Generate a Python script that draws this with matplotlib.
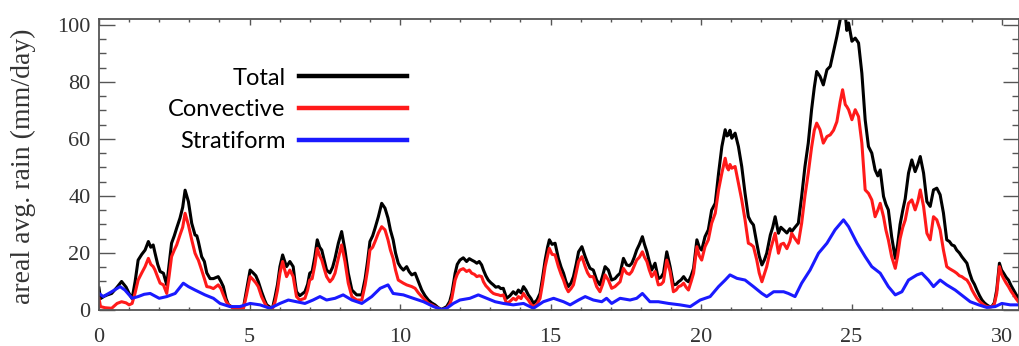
import matplotlib.pyplot as plt

# Daily-ish samples (day of month, mm/day)
day_total = [
    0.00, 0.05, 0.20, 0.42, 0.60, 0.75, 0.90, 1.00, 1.10, 1.20, 1.30, 1.42, 1.53, 1.64, 1.72, 1.80, 1.86, 1.95,
    2.03, 2.14, 2.25, 2.33, 2.41, 2.50, 2.58, 2.69, 2.78, 2.86, 2.97, 3.08, 3.19, 3.25, 3.30, 3.41, 3.50, 3.58,
    3.69, 3.80, 3.96, 4.05, 4.13, 4.22, 4.30, 4.46, 4.65, 4.80, 4.90, 5.02, 5.13, 5.21, 5.29, 5.40, 5.50, 5.57,
    5.68, 5.76, 5.85, 5.93, 6.01, 6.10, 6.17, 6.23, 6.34, 6.45, 6.51, 6.56, 6.67, 6.84, 6.93, 7.00, 7.08, 7.17,
    7.25, 7.33, 7.40, 7.48, 7.56, 7.67, 7.76, 7.84, 7.95, 8.06, 8.17, 8.28, 8.40, 8.56, 8.73, 8.84, 8.92, 9.00,
    9.09, 9.17, 9.28, 9.39, 9.50, 9.60, 9.68, 9.77, 9.85, 9.94, 10.02, 10.11, 10.22, 10.30, 10.39, 10.50, 10.61,
    10.72, 10.83, 10.94, 11.05, 11.16, 11.27, 11.38, 11.55, 11.65, 11.72, 11.83, 11.90, 11.99, 12.10, 12.21,
    12.30, 12.38, 12.47, 12.55, 12.63, 12.71, 12.77, 12.85, 12.93, 13.02, 13.10, 13.18, 13.27, 13.35, 13.43,
    13.54, 13.65, 13.76, 13.85, 13.93, 14.02, 14.10, 14.18, 14.26, 14.35, 14.43, 14.55, 14.65, 14.73, 14.82,
    14.90, 14.96, 15.05, 15.15, 15.26, 15.35, 15.43, 15.51, 15.59, 15.68, 15.76, 15.85, 15.93, 16.04, 16.15,
    16.23, 16.31, 16.42, 16.53, 16.64, 16.73, 16.81, 16.92, 17.03, 17.14, 17.22, 17.31, 17.42, 17.53, 17.62,
    17.70, 17.78, 17.86, 17.95, 18.05, 18.12, 18.20, 18.28, 18.36, 18.47, 18.58, 18.67, 18.75, 18.86, 18.97,
    19.08, 19.17, 19.25, 19.33, 19.42, 19.50, 19.58, 19.67, 19.75, 19.86, 19.94, 20.02, 20.13, 20.24, 20.35,
    20.47, 20.58, 20.69, 20.80, 20.86, 20.91, 20.96, 21.02, 21.13, 21.24, 21.35, 21.46, 21.57, 21.65, 21.74,
    21.85, 21.93, 22.02, 22.10, 22.18, 22.30, 22.38, 22.46, 22.57, 22.65, 22.74, 22.85, 22.95, 23.01, 23.12,
    23.23, 23.34, 23.45, 23.56, 23.67, 23.76, 23.84, 23.95, 24.06, 24.18, 24.29, 24.40, 24.51, 24.62, 24.70,
    24.79, 24.84, 24.90, 25.01, 25.12, 25.23, 25.34, 25.45, 25.56, 25.67, 25.78, 25.87, 25.95, 26.06, 26.14,
    26.22, 26.33, 26.45, 26.53, 26.61, 26.70, 26.78, 26.89, 27.00, 27.11, 27.20, 27.28, 27.39, 27.50, 27.61,
    27.72, 27.83, 27.94, 28.05, 28.16, 28.25, 28.33, 28.41, 28.49, 28.58, 28.66, 28.75, 28.83, 28.92, 29.00,
    29.08, 29.16, 29.25, 29.33, 29.41, 29.49, 29.58, 29.66, 29.74, 29.82, 29.91, 29.98, 30.05, 30.13, 30.21,
    30.30, 30.38, 30.46, 30.54, 30.62,
]
total = [
    7.7, 4.0, 5.0, 5.8, 8.0, 10.0, 8.0, 5.8, 4.0, 10.0, 17.5, 19.5, 21.0, 24.0, 22.0, 22.8, 20.0, 16.0,
    13.5, 12.9, 8.8, 16.0, 23.4, 26.0, 28.7, 32.2, 36.0, 42.0, 38.0, 30.4, 26.3, 26.0, 24.0, 18.7, 17.0, 13.0,
    11.0, 11.0, 11.7, 10.0, 8.2, 4.0, 1.8, 0.8, 0.5, 1.0, 7.0, 14.0, 12.9, 12.0, 10.0, 6.4, 3.5, 1.8,
    1.0, 0.5, 4.7, 9.0, 15.2, 19.3, 17.0, 15.2, 17.0, 15.2, 10.0, 6.4, 5.0, 6.4, 9.0, 12.9, 13.5, 18.7,
    24.6, 22.0, 21.0, 17.5, 14.0, 13.0, 15.0, 18.1, 23.4, 27.5, 21.0, 12.9, 7.0, 5.3, 5.3, 11.0, 17.0, 24.0,
    26.0, 28.7, 32.7, 37.4, 35.7, 32.2, 28.0, 24.6, 20.0, 16.4, 15.0, 14.0, 15.2, 13.5, 12.3, 12.9, 10.0,
    7.0, 5.0, 3.5, 2.5, 1.8, 0.8, 0.2, 1.2, 3.0, 5.8, 12.9, 16.0, 17.5, 18.3, 17.0,
    18.0, 17.5, 17.0, 16.4, 17.0, 15.8, 14.0, 12.0, 10.5, 9.5, 8.8, 8.0, 8.2, 7.5, 7.6,
    4.1, 5.0, 6.4, 5.5, 7.0, 6.0, 8.2, 7.0, 5.3, 4.0, 2.3, 3.5, 5.8, 11.0, 17.5,
    22.0, 24.6, 23.0, 23.4, 18.1, 15.0, 12.9, 10.0, 8.2, 9.5, 11.7, 16.0, 20.4, 22.2, 18.7,
    16.5, 14.6, 14.0, 10.5, 8.8, 12.0, 15.2, 14.0, 10.5, 11.0, 12.0, 12.9, 18.1, 15.8, 15.5,
    16.4, 18.5, 21.0, 23.0, 25.7, 23.0, 20.4, 17.0, 14.0, 16.4, 11.0, 11.5, 12.9, 20.4, 15.2,
    8.8, 9.0, 9.9, 10.5, 11.7, 10.5, 9.9, 12.0, 14.6, 24.6, 22.0, 21.0, 25.7, 28.1, 35.0,
    37.4, 47.9, 57.3, 63.2, 61.0, 61.4, 63.0, 60.2, 62.0, 57.3, 50.3, 40.9, 32.7, 31.0, 29.8,
    23.4, 19.0, 15.8, 17.5, 19.9, 26.3, 29.0, 32.7, 26.9, 29.0, 28.1, 27.0, 28.5, 27.5, 29.0,
    30.4, 39.8, 50.3, 58.5, 70.2, 78.0, 83.6, 81.9, 78.9, 84.2, 85.4, 90.6, 95.9, 101.8, 104.0,
    103.5, 98.0, 100.6, 94.2, 95.3, 93.6, 83.0, 66.7, 57.3, 55.0, 49.1, 47.0, 49.1, 39.8, 37.0,
    35.1, 25.7, 18.1, 23.0, 30.0, 35.0, 39.0, 48.0, 52.6, 48.5, 51.0, 53.8, 48.0, 38.0, 36.3,
    42.1, 42.7, 40.4, 34.0, 24.6, 24.0, 22.8, 22.5, 21.0, 20.0, 18.7, 17.5, 16.4, 13.0, 10.5,
    9.0, 7.0, 5.0, 3.5, 2.5, 1.8, 1.2, 1.2, 2.5, 7.0, 16.4, 14.0, 12.9, 11.5, 10.5,
    8.5, 7.0, 5.5, 4.1, 3.0,
]

day_conv = day_total
convective = [
    4.0, 1.2, 0.8, 0.6, 2.3, 2.9, 2.5, 1.8, 2.3, 6.0, 10.5, 13.0, 15.2, 18.1, 16.0, 15.2, 14.0, 11.5,
    9.4, 8.8, 5.8, 12.0, 18.7, 21.0, 22.8, 26.3, 29.0, 33.9, 29.8, 24.6, 19.9, 18.5, 17.5, 14.0, 11.0, 8.2,
    8.0, 7.5, 8.8, 7.5, 5.3, 3.0, 1.8, 0.6, 0.4, 0.6, 5.3, 11.7, 10.5, 9.5, 8.2, 4.7, 2.5, 1.2,
    0.6, 0.4, 2.9, 7.0, 12.9, 17.0, 14.0, 11.7, 14.0, 11.7, 8.0, 4.7, 3.5, 4.1, 7.0, 10.5, 11.0, 15.8,
    21.6, 19.0, 17.5, 14.5, 11.7, 9.9, 11.0, 12.9, 18.1, 22.8, 17.0, 9.4, 4.7, 3.5, 3.5, 8.8, 14.0, 21.0,
    22.0, 24.0, 27.0, 29.2, 28.1, 24.6, 21.0, 18.1, 14.0, 10.5, 10.0, 9.4, 8.8, 8.5, 8.2, 7.6, 6.0,
    4.7, 3.5, 2.3, 1.8, 1.2, 0.6, 0.0, 0.6, 2.0, 4.1, 10.5, 12.5, 14.0, 14.5, 13.5,
    14.0, 12.9, 12.5, 11.7, 12.0, 11.7, 9.9, 8.5, 7.6, 6.5, 5.8, 5.5, 5.3, 5.0, 5.3,
    2.3, 3.0, 4.1, 3.5, 4.7, 4.0, 5.8, 4.5, 3.5, 2.0, 1.2, 2.0, 4.1, 9.0, 15.2,
    19.0, 21.6, 19.5, 19.3, 15.2, 12.5, 10.5, 8.0, 6.4, 7.5, 8.8, 13.0, 17.0, 18.7, 15.2,
    13.0, 11.7, 11.7, 8.2, 6.4, 9.0, 12.3, 10.5, 7.6, 8.2, 9.0, 9.9, 14.6, 12.9, 12.5,
    13.5, 15.5, 17.5, 18.5, 20.4, 18.5, 17.0, 14.0, 11.7, 13.5, 8.8, 9.0, 9.9, 17.5, 13.5,
    6.4, 7.0, 8.2, 8.5, 9.4, 8.0, 7.0, 10.0, 12.9, 22.2, 19.0, 17.5, 22.2, 24.6, 30.4,
    33.9, 42.1, 48.0, 53.2, 50.0, 49.1, 51.0, 49.7, 50.3, 44.4, 38.6, 31.6, 23.4, 23.0, 22.2,
    17.5, 13.0, 9.9, 12.5, 15.2, 21.0, 24.0, 26.9, 19.9, 23.0, 23.4, 21.5, 24.0, 26.9, 25.0,
    23.4, 30.4, 40.0, 48.0, 57.0, 63.0, 65.5, 63.2, 58.5, 60.8, 61.4, 63.0, 66.0, 73.0, 77.2,
    72.0, 71.3, 70.2, 66.7, 70.2, 67.8, 58.5, 42.1, 40.9, 38.6, 32.7, 35.0, 37.4, 32.7, 28.0,
    24.6, 18.7, 14.6, 19.0, 25.0, 29.0, 31.5, 37.4, 38.6, 35.1, 38.0, 42.1, 36.3, 26.9, 24.6,
    32.7, 31.6, 28.1, 21.0, 15.2, 14.5, 14.0, 13.5, 12.9, 12.0, 11.7, 11.0, 10.5, 9.0, 7.0,
    5.5, 4.1, 3.0, 2.3, 1.6, 1.2, 1.0, 1.2, 2.0, 5.8, 15.2, 12.5, 11.0, 9.5, 8.2,
    6.5, 5.3, 4.0, 2.9, 2.0,
]

day_strat = [
    0.00, 0.14, 0.42, 0.70, 0.86, 1.10, 1.30, 1.50, 1.70, 2.00, 2.25, 2.53, 2.80, 2.97, 3.19, 3.52, 3.80,
    4.02, 4.35, 4.68, 5.02, 5.35, 5.68, 6.01, 6.29, 6.56, 6.84, 7.11, 7.34, 7.56, 7.84, 8.11, 8.40, 8.73,
    9.06, 9.34, 9.60, 9.77, 10.11, 10.44, 10.78, 11.11, 11.38, 11.55, 11.77, 11.99, 12.32, 12.60, 12.88,
    13.16, 13.43, 13.76, 14.10, 14.43, 14.76, 15.10, 15.43, 15.65, 15.93, 16.15, 16.42, 16.70, 16.86,
    17.03, 17.31, 17.64, 17.86, 18.05, 18.30, 18.58, 18.92, 19.30, 19.64, 19.97, 20.30, 20.58, 20.80,
    20.96, 21.19, 21.46, 21.74, 22.02, 22.18, 22.41, 22.74, 22.90, 23.12, 23.34, 23.62, 23.90, 24.18,
    24.45, 24.73, 24.90, 25.18, 25.45, 25.67, 25.95, 26.22, 26.45, 26.67, 26.89, 27.17, 27.33, 27.55,
    27.72, 27.94, 28.16, 28.44, 28.72, 28.94, 29.22, 29.49, 29.77, 29.99, 30.27, 30.54, 30.62,
]
stratiform = [
    5.8, 4.7, 6.4, 8.2, 7.0, 4.1, 4.7, 5.5, 5.8, 4.1, 4.7, 5.8, 9.4, 8.2, 7.0, 5.3, 4.1,
    2.3, 1.2, 1.2, 2.3, 1.8, 0.6, 2.3, 3.5, 2.9, 2.3, 3.5, 4.7, 3.5, 4.1, 5.3, 3.5, 2.3,
    4.7, 7.6, 8.8, 5.8, 5.3, 4.1, 2.9, 1.2, 0.2, 0.6, 2.3, 3.5, 4.1, 5.3, 4.1,
    2.9, 2.3, 1.8, 2.3, 0.6, 2.9, 4.1, 2.9, 1.8, 3.5, 4.7, 3.5, 2.9, 4.1,
    2.3, 4.1, 3.5, 4.1, 5.8, 2.9, 2.9, 2.3, 1.8, 1.2, 3.5, 4.7, 8.2, 10.5,
    12.3, 11.1, 10.5, 8.2, 5.8, 4.7, 6.4, 6.4, 5.8, 4.7, 9.4, 14.0, 19.9, 23.4,
    28.1, 31.6, 29.2, 23.4, 18.7, 15.2, 12.9, 8.2, 5.3, 6.4, 10.5, 12.3, 12.9, 10.5,
    8.2, 10.5, 8.8, 7.0, 4.7, 2.9, 1.8, 0.9, 1.2, 2.3, 1.8, 1.8, 1.8,
]

plt.rcParams["font.family"] = "Liberation Serif"

fig = plt.figure(figsize=(10.2, 3.46), dpi=100)
ax = fig.add_axes([99 / 1020, 36 / 346, 920 / 1020, 291 / 346])

ax.plot(day_total, total, color="black", lw=2.2, label="Total")
ax.plot(day_conv, convective, color="#ff1a1a", lw=2.2, label="Convective")
ax.plot(day_strat, stratiform, color="#1a1aff", lw=2.2, label="Stratiform")

ax.set_xlim(0, 30.56)
ax.set_ylim(0, 102)
ax.set_xticks(range(0, 31, 5))
ax.set_xticks(range(0, 31), minor=True)
ax.set_yticks(range(0, 101, 20))
ax.set_yticks(range(0, 101, 5), minor=True)

for s in ax.spines.values():
    s.set_color("#555555")
    s.set_linewidth(1.3)

ax.tick_params(axis="x", which="major", direction="in", length=4.5, width=1, top=True,
               color="#555555", labelsize=16, labelcolor="#333333", pad=13)
ax.tick_params(axis="x", which="minor", direction="in", length=2.2, width=1, top=True, color="#555555")
ax.tick_params(axis="y", which="major", direction="in", length=11.5, width=1, right=True,
               color="#555555", labelsize=16, labelcolor="#333333", pad=6)
ax.tick_params(axis="y", which="minor", direction="in", length=5, width=1, right=True, color="#555555")

# y label: its right side sits ~35 px from the figure edge
ax.set_ylabel("areal avg. rain (mm/day)", fontsize=20, color="#333333")
ax.yaxis.set_label_coords(-0.068, 0.495)

leg = ax.legend(loc="center right", bbox_to_anchor=(0.335, 0.688), markerfirst=False, frameon=False,
                prop={"family": "Lato", "size": 17}, handlelength=4.6, handletextpad=0.55,
                labelspacing=0.45, borderpad=0, borderaxespad=0)
for h in leg.get_lines():
    h.set_linewidth(3.2)

plt.savefig("out.png", dpi=100)
